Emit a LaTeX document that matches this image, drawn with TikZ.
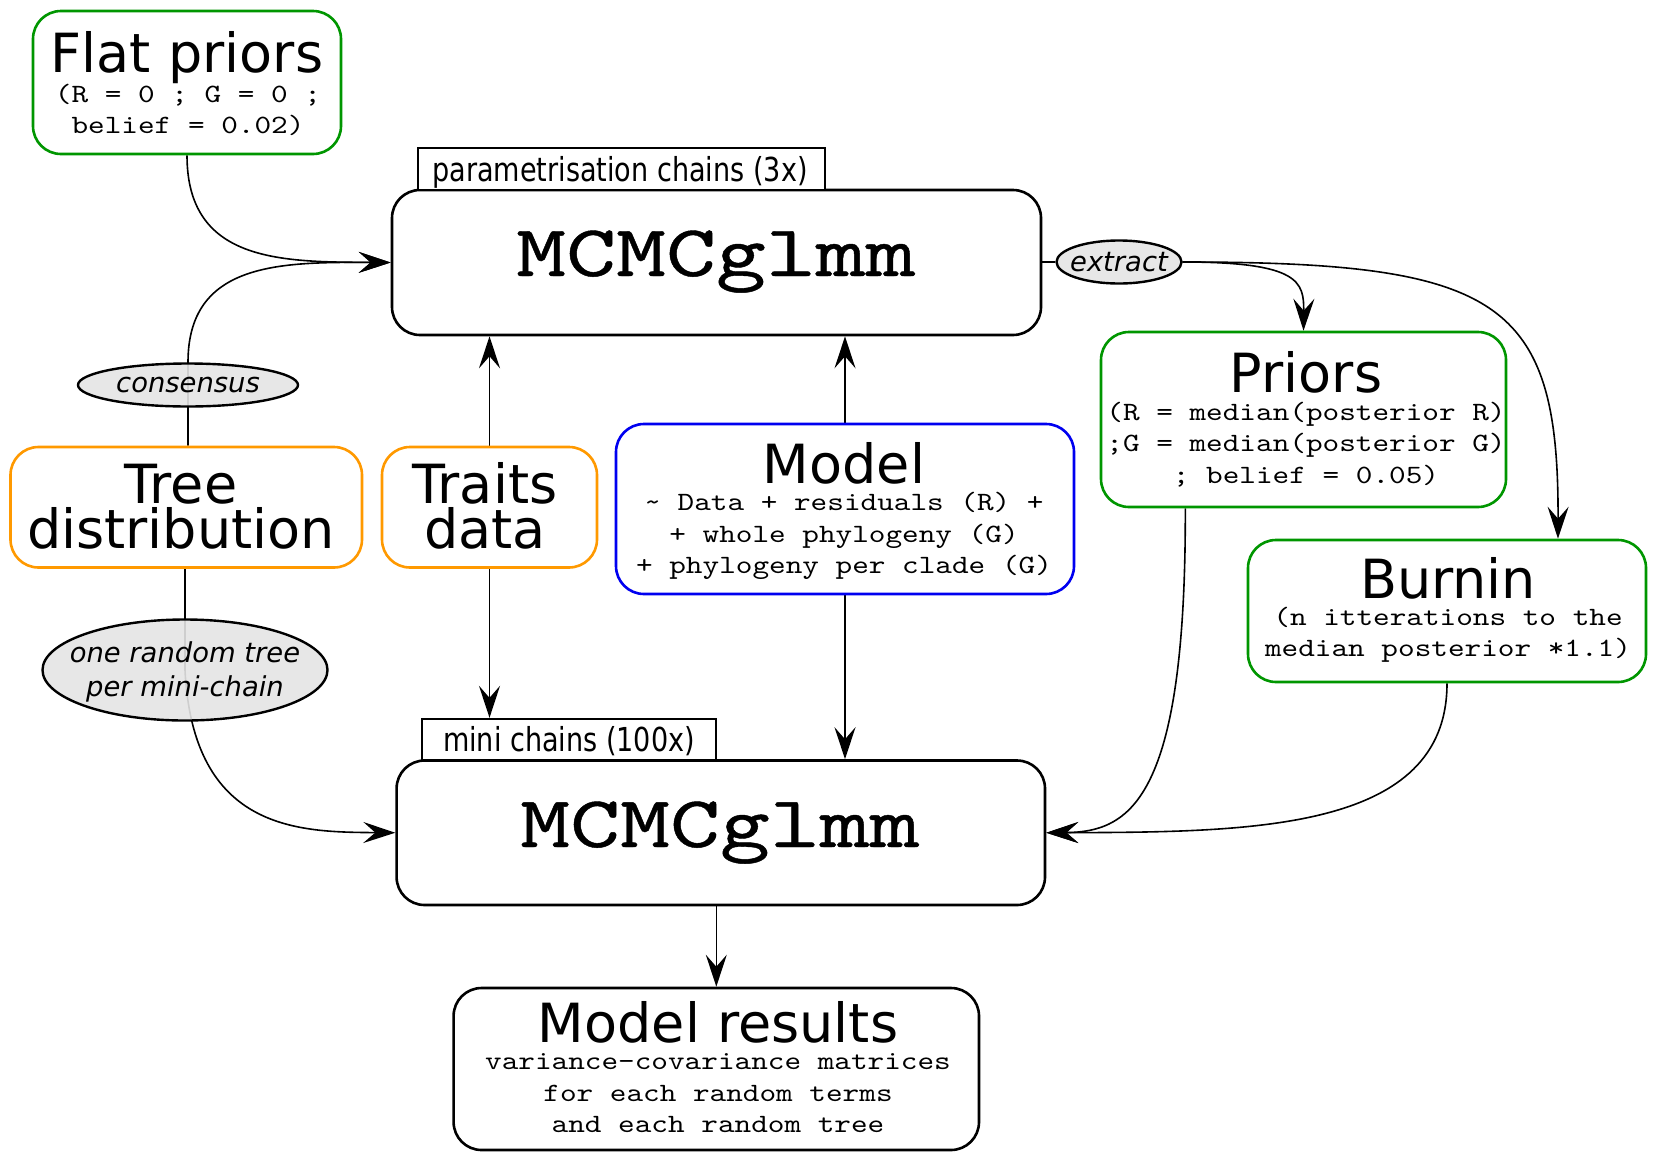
\documentclass[tikz,border=0pt]{standalone}
\usepackage{fontspec}
\setmainfont{DejaVu Sans}
\newfontfamily\condsans{DejaVu Sans}[FakeStretch=0.82]
\newfontfamily\monoA{lmmono10-regular.otf}[FakeStretch=1.2]
\newfontfamily\monoB{lmmono10-regular.otf}[FakeStretch=1.3,FakeBold=0.6]
\usetikzlibrary{arrows.meta,shapes.geometric,fit,calc,backgrounds}
\definecolor{grn}{RGB}{0,150,0}
\definecolor{org}{RGB}{255,153,0}
\definecolor{blu}{RGB}{0,0,240}
\tikzset{
  box/.style={draw, line width=1.3pt, rounded corners=14pt, inner sep=0pt, fill=white},
  gbox/.style={box, draw=grn},
  obox/.style={box, draw=org},
  bbox/.style={box, draw=blu},
  kbox/.style={box, draw=black},
  labbox/.style={draw, line width=1.2pt, inner sep=0pt, fill=white},
  labtext/.style={anchor=base, inner sep=0pt, font=\condsans\fontsize{16.5}{19}\selectfont},
  ell/.style={ellipse, draw, line width=1.2pt, fill=black!10, fill opacity=0.9, inner sep=0pt},
  elltext/.style={inner sep=0pt, align=center, font=\fontsize{13.7}{17}\selectfont\itshape},
  title/.style={anchor=base, inner sep=0pt, align=center, font=\fontsize{27}{22.7}\selectfont},
  mono/.style={anchor=base, inner sep=0pt, align=center, font=\monoA\fontsize{13.2}{15.8}\selectfont},
  bigmono/.style={anchor=base, inner sep=0pt, font=\monoB\fontsize{36.6}{40}\selectfont},
  conn/.style={line width=0.8pt},
  arr/.style={conn, -{Stealth[length=16pt,width=10.5pt,inset=6pt]}}
}
\begin{document}
\begin{tikzpicture}[x=0.5pt,y=-0.5pt]
\useasboundingbox (0,0) rectangle (1654,1173);

% boxes (multi-line text nodes: base = last line baseline)
\node[gbox, fit={(33,11) (341,154)}] (flat) {};
\node[title] (flatT) at (187,72) {Flat priors};
\node[mono] (flatM) at (188,133.6) {(R = 0 ; G = 0 ;\\belief = 0.02)};

\node[kbox, fit={(392,190) (1041,335)}] (mc1) {};
\node[bigmono] (mc1T) at (716,276) {MCMCglmm};
\node[labbox, fit={(418,148) (825,190)}] (plab) {};
\node[labtext] (plabT) at (620,181) {parametrisation chains (3x)};

\node[ell, minimum width=62.5pt, minimum height=21.5pt] (ext) at (1119,262) {};
\node[elltext] (extT) at (ext.center) {extract};
\node[ell, minimum width=110pt, minimum height=21.5pt] (cons) at (188,385) {};
\node[elltext] (consT) at (cons.center) {consensus};

\node[obox, fit={(10.5,447) (362,567.5)}] (tree) {};
\node[title] (treeT) at (181,548.5) {Tree\\distribution};
\node[obox, fit={(382,447) (597,567.5)}] (traits) {};
\node[title] (traitsT) at (485,548.5) {Traits\\data};

\node[bbox, fit={(616,424) (1074,594)}] (model) {};
\node[title] (modelT) at (844,483) {Model};
\node[mono] (modelM) at (844,573.7) {\textasciitilde{} Data + residuals (R) +\\+ whole phylogeny (G)\\+ phylogeny per clade (G)};

\node[gbox, fit={(1101,332) (1506,507)}] (priors) {};
\node[title] (priorsT) at (1306,392) {Priors};
\node[mono] (priorsM) at (1306,483.2) {(R = median(posterior R)\\;G = median(posterior G)\\; belief = 0.05)};

\node[gbox, fit={(1248,540) (1646,682)}] (burnin) {};
\node[title] (burninT) at (1448,598) {Burnin};
\node[mono] (burninM) at (1448,656.6) {(n itterations to the\\median posterior *1.1)};

\node[ell, minimum width=142.5pt, minimum height=50.5pt] (rnd) at (185,670) {};
\node[elltext] (rndT) at (185,672) {one random tree\\per mini-chain};

\node[kbox, fit={(396.6,760.5) (1045,905)}] (mc2) {};
\node[bigmono] (mc2T) at (720,847) {MCMCglmm};
\node[labbox, fit={(422,719) (716,760.5)}] (mlab) {};
\node[labtext] (mlabT) at (569,751.5) {mini chains (100x)};

\node[kbox, fit={(453.6,988) (979,1150)}] (res) {};
\node[title] (resT) at (718,1042) {Model results};
\node[mono] (resM) at (718,1132.7) {variance-covariance matrices\\for each random terms\\and each random tree};

\coordinate (bin) at ($(burnin.north west)!0.777!(burnin.north east)$);
\coordinate (pout) at ($(priors.south west)!0.21!(priors.south east)$);

\begin{scope}[on background layer]
\fill[white] (0,0) rectangle (1654,1173);
\draw[arr] (flat.south) .. controls (187,262) and (280,262) .. (mc1.west);
\draw[arr] (tree.north -| cons) -- (cons.north) .. controls (188,262) and (280,262) .. (mc1.west);
\draw[arr] (tree.south -| rnd) -- (rnd.center) .. controls (193,832) and (300,832) .. (mc2.west);
\draw[arr] (traits.north) -- (traits.north |- mc1.south);
\draw[arr] (traits.south) -- (traits.south |- mlab.north);
\draw[arr] (model.north) -- (model.north |- mc1.south);
\draw[arr] (model.south) -- (model.south |- mc2.north);
\draw[conn] (mc1.east |- ext.west) -- (ext.west);
\draw[arr] (ext.east) .. controls (1300,262) and (1304,282) .. (priors.north);
\draw[arr] (ext.east) .. controls (1500,262) and (1559,300) .. (bin);
\draw[arr] (pout) .. controls (1186,800) and (1130,832) .. (mc2.east);
\draw[arr] (burnin.south) .. controls (1447,832) and (1250,832) .. (mc2.east);
\draw[arr] (mc2.south -| res.north) -- (res.north);
\end{scope}
\end{tikzpicture}
\end{document}
